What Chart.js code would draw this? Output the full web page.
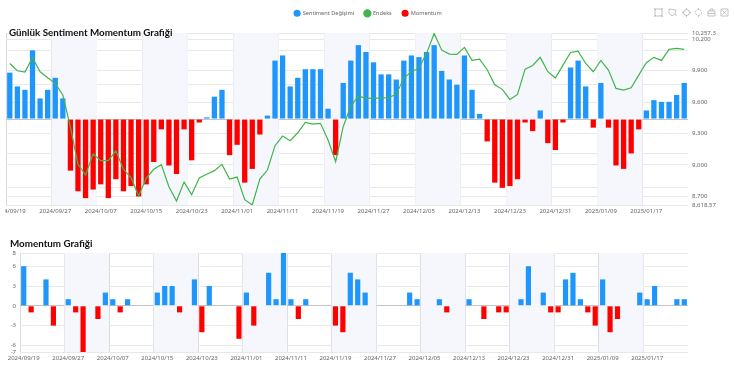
<!DOCTYPE html>
<html>
<head>
<meta charset="utf-8">
<title>Günlük Sentiment Momentum Grafiği</title>
<script src="https://cdn.jsdelivr.net/npm/chart.js@4/dist/chart.umd.min.js"></script>
<style>
  html, body { margin: 0; padding: 0; background: #fff; overflow: hidden; }
  body { width: 735px; height: 371px; position: relative; font-family: "Noto Sans", sans-serif; }
  .box { position: absolute; }
  .title { position: absolute; font-family: Lato, sans-serif; font-weight: 700; font-size: 9.8px; line-height: 12px; color: #111; white-space: nowrap; }
  #tools { position: absolute; left: 654px; top: 8px; }
</style>
</head>
<body>
<div class="box" style="left:5px;top:0;width:730px;height:222px"><canvas id="top"></canvas></div>
<div class="box" style="left:0;top:240px;width:735px;height:131px"><canvas id="bottom"></canvas></div>
<div class="title" style="left:9px;top:26px">Günlük Sentiment Momentum Grafiği</div>
<div class="title" style="left:10px;top:237px">Momentum Grafiği</div>
<svg id="tools" width="76" height="9" fill="none" stroke="#aaa" stroke-width="0.7">
  <path d="M1 1h7v7h-7zM0 0l2 2M9 0l-2 2M0 9l2-2M9 9l-2-2"/>
  <path d="M15 1l7 1-1 4-3 2-3-3zM21 6l2 2"/>
  <circle cx="32.5" cy="4.5" r="3"/><path d="M32.5 0v2M32.5 7v2M28 4.500h2M35 4.500h2"/>
  <circle cx="44.500" cy="4.500" r="3" stroke-dasharray="2 1"/><path d="M44.500 0v2M44.500 7v2"/>
  <path d="M54 3h7v5h-7zM56 3v-2h3v2M54 5.500h7"/>
  <path d="M67 1h7v7h-7zM68.500 2.500l4 4M72.500 2.500l-4 4"/>
</svg>
<script>
const dates = [
  '2024/09/19','2024/09/20','2024/09/23','2024/09/24','2024/09/25','2024/09/26',
  '2024/09/27','2024/09/30','2024/10/01','2024/10/02','2024/10/03','2024/10/04',
  '2024/10/07','2024/10/08','2024/10/09','2024/10/10','2024/10/11','2024/10/14',
  '2024/10/15','2024/10/16','2024/10/17','2024/10/18','2024/10/21','2024/10/22',
  '2024/10/23','2024/10/24','2024/10/25','2024/10/28','2024/10/30','2024/10/31',
  '2024/11/01','2024/11/04','2024/11/05','2024/11/06','2024/11/07','2024/11/08',
  '2024/11/11','2024/11/12','2024/11/13','2024/11/14','2024/11/15','2024/11/18',
  '2024/11/19','2024/11/20','2024/11/21','2024/11/22','2024/11/25','2024/11/26',
  '2024/11/27','2024/11/28','2024/11/29','2024/12/02','2024/12/03','2024/12/04',
  '2024/12/05','2024/12/06','2024/12/09','2024/12/10','2024/12/11','2024/12/12',
  '2024/12/13','2024/12/16','2024/12/17','2024/12/18','2024/12/19','2024/12/20',
  '2024/12/23','2024/12/24','2024/12/25','2024/12/26','2024/12/27','2024/12/30',
  '2024/12/31','2025/01/02','2025/01/03','2025/01/06','2025/01/07','2025/01/08',
  '2025/01/09','2025/01/10','2025/01/13','2025/01/14','2025/01/15','2025/01/16',
  '2025/01/17','2025/01/20','2025/01/21','2025/01/22','2025/01/23','2025/01/24'
]

const sentiment = [
  13.5,9.5,8.5,20,6,8.5,12,6,-15,-21,-23,-20.5,-19,-23,-17.5,-21,-19.5,-22.5,
  -19,-12.5,-3,-13.5,-16,-3,-12,-1,0.5,6.5,8.5,-10.5,-7.5,-18.5,-14.5,-4.5,1,17,
  18.5,9.5,12,14.5,14.5,14.5,3,-10.5,10.5,17,21.5,19.5,16.5,13,13,11.5,17,18.5,
  18,19.5,21.5,14,11.5,10,18.5,8.5,1.5,-6.5,-18.5,-20,-19.5,-17.5,-1,-3.5,2.5,-7,
  -9,-1,15,17,9.5,-2.5,10.5,-2.5,-13.5,-14.5,-10,-3,2.5,5.5,5,5,7,10.5
]

const endeks = [
  9968,9898,9886,10022,9889,9831,9778,9667,9362,9006,8904,9105,9041,9041,9133,8959,8879,8704,
  8873,8959,9003,8793,8657,8838,8717,8876,8911,8946,9006,8866,8885,8669,8619,8866,8952,9184,
  9276,9231,9307,9406,9390,9397,9238,9031,9365,9562,9657,9635,9638,9638,9642,9673,9829,9889,
  9924,10064,10254,10095,10057,10054,10121,9997,10010,9908,9765,9721,9625,9673,9914,9949,10026,9889,
  9829,9952,10073,10086,9968,9889,9997,9905,9730,9714,9736,9857,9975,10026,9997,10102,10111,10102
]

const momentum = [
  6,-1,0,4,-3,0,1,-1,-7,0,-2,2,1,-1,1,0,0,0,
  2,3,3,-1,0,4,-4,3,0,0,0,-5,2,-3,0,5,1,8,
  1,-2,1,0,0,0,-3,-4,5,4,2,0,0,0,0,0,2,1,
  0,0,1,-1,0,0,1,0,-2,0,-1,-1,0,1,6,0,2,-1,
  -1,4,5,1,-1,-3,4,-4,-2,0,0,2,1,3,0,0,1,1
]

const endeksTicks = [8618.57,8700,9000,9300,9600,9900,10200,10257.3]
const momentumTicks = [-7,-6,-3,0,3,6,8]

const BLUE = '#1e96fc', RED = '#ff0000', GREEN = '#3fb54a'
const TICK = '#666', GRID_H = '#e8e8e8', GRID_V = '#d8d9df', ZERO = '#c4c4c4', BAND = '#f6f7fc'
const STEP = 6 // one label and one stripe per 6 trading days

Chart.defaults.font.family = '"Noto Sans", sans-serif'
Chart.defaults.font.size = 6
Chart.defaults.animation = false
Chart.defaults.responsive = false

// alternating background stripes behind the bars
const bands = {
  id: 'bands',
  beforeDatasetsDraw(chart) {
    const { ctx, chartArea: a, scales: { x } } = chart
    const w = x.width / dates.length
    ctx.save()
    ctx.fillStyle = BAND
    for (let i = STEP; i < dates.length; i += STEP * 2) {
      ctx.fillRect(x.left + i * w, a.top, w * STEP, a.height)
    }
    ctx.restore()
  }
}

// leaves room under the legend for the title
const legendGap = {
  id: 'legendGap',
  beforeInit(chart) {
    const fit = chart.legend.fit
    chart.legend.fit = function () {
      fit.call(this)
      this.height += 7
    }
  }
}

function xAxis(height) {
  return {
    offset: true,
    grid: {
      offset: true,
      drawTicks: false,
      lineWidth: 1,
      color: c => (c.index % STEP === 0 ? GRID_V : 'transparent')
    },
    border: { display: false },
    ticks: {
      autoSkip: false, maxRotation: 0, minRotation: 0, color: TICK, padding: 3,
      callback: (v, i) => (i % STEP === 0 ? dates[i] : '')
    },
    afterFit: s => {
      s.height = height
      s.paddingLeft = 0
      s.paddingRight = 0
    }
  }
}

function setSize(id, w, h) {
  const el = document.getElementById(id)
  el.width = w
  el.height = h
  el.style.display = 'block'
  return el
}

new Chart(setSize('top', 730, 222), {
  type: 'bar',
  plugins: [bands, legendGap],
  data: {
    labels: dates,
    datasets: [
      { label: 'Sentiment Değişimi', data: sentiment.map(v => (v > 0 ? v : null)), backgroundColor: BLUE, yAxisID: 'y', order: 2 },
      { label: 'Endeks', type: 'line', data: endeks, borderColor: GREEN, backgroundColor: GREEN, borderWidth: 1.2, pointRadius: 0, tension: 0, yAxisID: 'y2', order: 1 },
      { label: 'Momentum', data: sentiment.map(v => (v < 0 ? v : null)), backgroundColor: RED, yAxisID: 'y', order: 2 }
    ]
  },
  options: {
    layout: { padding: { left: 1, right: 5, top: 0, bottom: 0 } },
    datasets: { bar: { grouped: false, barPercentage: 0.7, categoryPercentage: 1 } },
    plugins: {
      tooltip: { enabled: false },
      legend: {
        position: 'top',
        labels: {
          usePointStyle: true, pointStyle: 'circle', boxWidth: 6, boxHeight: 5, padding: 10.5,
          color: TICK, font: { size: 5.6 },
          sort: (a, b) => a.datasetIndex - b.datasetIndex
        }
      }
    },
    scales: {
      x: xAxis(17),
      y: {
        position: 'left', min: -25, max: 25,
        afterBuildTicks: s => { s.ticks = [-20,-10,0,10,20].map(value => ({ value })) },
        grid: { drawTicks: false, color: c => (c.tick.value === 0 ? ZERO : GRID_H) },
        border: { display: false },
        ticks: { display: false },
        afterFit: s => { s.width = 0 }
      },
      y2: {
        position: 'right', min: 8618.57, max: 10257.3,
        afterBuildTicks: s => { s.ticks = endeksTicks.map(value => ({ value })) },
        grid: { drawTicks: false, color: GRID_H },
        border: { display: false },
        ticks: { color: TICK, padding: 4, autoSkip: false, callback: v => v.toLocaleString('en-US') },
        afterFit: s => { s.width = 42 }
      }
    }
  }
})

new Chart(setSize('bottom', 735, 131), {
  type: 'bar',
  plugins: [bands],
  data: {
    labels: dates,
    datasets: [
      { label: 'Momentum', data: momentum, backgroundColor: momentum.map(v => (v < 0 ? RED : BLUE)) }
    ]
  },
  options: {
    layout: { padding: { left: 0, right: 47, top: 13, bottom: 0 } },
    datasets: { bar: { barPercentage: 0.7, categoryPercentage: 1 } },
    plugins: { legend: { display: false }, tooltip: { enabled: false } },
    scales: {
      x: xAxis(19),
      y: {
        min: -7, max: 8,
        afterBuildTicks: s => { s.ticks = momentumTicks.map(value => ({ value })) },
        grid: { drawTicks: false, color: c => (c.tick.value === 0 ? ZERO : GRID_H) },
        border: { display: false },
        ticks: { color: TICK, padding: 4, autoSkip: false },
        afterFit: s => { s.width = 20 }
      }
    }
  }
})
</script>
</body>
</html>
